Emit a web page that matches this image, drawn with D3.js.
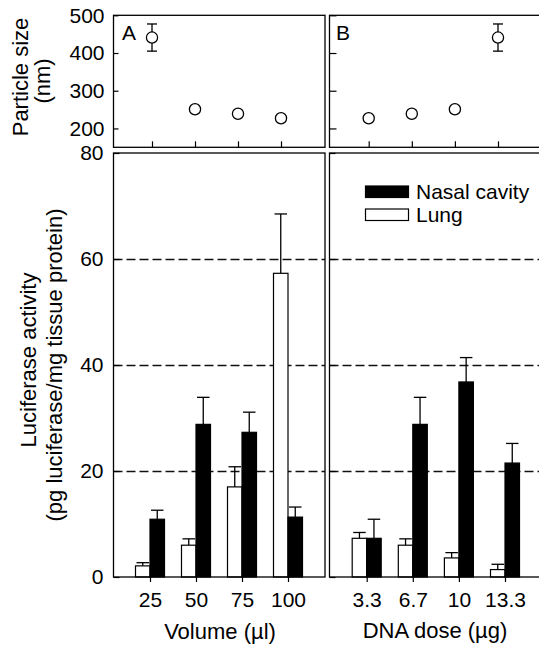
<!DOCTYPE html>
<html>
<head>
<meta charset="utf-8">
<script src="https://cdn.jsdelivr.net/npm/d3@7"></script>
<style>
  body { margin: 0; background: #fff; }
  svg { font-family: "Liberation Sans", Arial, Helvetica, sans-serif; }
</style>
</head>
<body>
<script>
// data
var volumes = ["25", "50", "75", "100"];
var doses = ["3.3", "6.7", "10", "13.3"];

var sizeVolume = [441, 251, 239, 227];
var sizeVolumeErr = [36, 0, 0, 0];
var sizeDose = [227, 239, 251, 441];
var sizeDoseErr = [0, 0, 0, 36];

var lungVolume = [2.1, 6.0, 17.0, 57.3];
var lungVolumeErr = [0.6, 1.2, 3.8, 11.2];
var nasalVolume = [10.9, 28.8, 27.3, 11.3];
var nasalVolumeErr = [1.7, 5.1, 3.8, 1.9];

var lungDose = [7.3, 6.0, 3.6, 1.4];
var lungDoseErr = [1.1, 1.2, 1.0, 1.0];
var nasalDose = [7.3, 28.8, 36.8, 21.5];
var nasalDoseErr = [3.6, 5.1, 4.6, 3.7];

var sizeTicks = [200, 300, 400, 500];
var actTicks = [0, 20, 40, 60, 80];

var w = 539, h = 645;
var svg = d3.select("body").append("svg")
    .attr("width", w)
    .attr("height", h);

// panel boxes
var pA = {x0: 113.5, x1: 325};
var pB = {x0: 329.5, x1: 541};
var top_ = {y0: 15.3, y1: 147.3};
var bot = {y0: 153, y1: 577};

var ySize = d3.scaleLinear().domain([150, 500]).range([top_.y1, top_.y0]);
var yAct = d3.scaleLinear().domain([0, 80]).range([bot.y1, bot.y0]);

var xTopA = d3.scalePoint().domain(volumes).range([152, 281]);
var xTopB = d3.scalePoint().domain(doses).range([368.7, 498]);
var xBotA = d3.scalePoint().domain(volumes).range([150, 288]);
var xBotB = d3.scalePoint().domain(doses).range([366.7, 505]);

var fs = 21;
var titleFs = 22;
var barW = 14.5;

// dashed grid lines
[pA, pB].forEach(function(p) {
  svg.selectAll(null)
    .data([20, 40, 60])
    .enter()
    .append("line")
    .attr("x1", p.x0).attr("x2", p.x1)
    .attr("y1", function(d) { return Math.round(yAct(d)) + 0.5; })
    .attr("y2", function(d) { return Math.round(yAct(d)) + 0.5; })
    .attr("stroke", "#111")
    .attr("stroke-width", 1.3)
    .attr("stroke-dasharray", "9,4");
});

// bars with error bars
function drawBars(x, lung, lungErr, nasal, nasalErr, cats) {
  var g = svg.append("g");
  var rows = cats.map(function(c, i) {
    return [
      {x: x(c) - barW, v: lung[i], e: lungErr[i], fill: "#fff"},
      {x: x(c), v: nasal[i], e: nasalErr[i], fill: "#000"}
    ];
  }).flat();

  g.selectAll("line.err")
    .data(rows)
    .enter()
    .append("line")
    .attr("x1", function(d) { return d.x + barW / 2; })
    .attr("x2", function(d) { return d.x + barW / 2; })
    .attr("y1", function(d) { return yAct(d.v); })
    .attr("y2", function(d) { return yAct(d.v + d.e); })
    .attr("stroke", "#000")
    .attr("stroke-width", 1.3);

  g.selectAll("line.cap")
    .data(rows)
    .enter()
    .append("line")
    .attr("x1", function(d) { return d.x + 1; })
    .attr("x2", function(d) { return d.x + barW - 1; })
    .attr("y1", function(d) { return yAct(d.v + d.e); })
    .attr("y2", function(d) { return yAct(d.v + d.e); })
    .attr("stroke", "#000")
    .attr("stroke-width", 1.3);

  g.selectAll("rect")
    .data(rows)
    .enter()
    .append("rect")
    .attr("x", function(d) { return d.x; })
    .attr("y", function(d) { return yAct(d.v); })
    .attr("width", barW)
    .attr("height", function(d) { return yAct(0) - yAct(d.v); })
    .attr("fill", function(d) { return d.fill; })
    .attr("stroke", "#000")
    .attr("stroke-width", 1.2);
}
drawBars(xBotA, lungVolume, lungVolumeErr, nasalVolume, nasalVolumeErr, volumes);
drawBars(xBotB, lungDose, lungDoseErr, nasalDose, nasalDoseErr, doses);

// particle size points
function drawPoints(x, vals, errs, cats) {
  var g = svg.append("g");
  var pts = cats.map(function(c, i) { return {x: x(c), v: vals[i], e: errs[i]}; });
  var withErr = pts.filter(function(d) { return d.e > 0; });

  g.selectAll("line.err")
    .data(withErr)
    .enter()
    .append("line")
    .attr("x1", function(d) { return d.x; })
    .attr("x2", function(d) { return d.x; })
    .attr("y1", function(d) { return ySize(d.v - d.e); })
    .attr("y2", function(d) { return ySize(d.v + d.e); })
    .attr("stroke", "#000")
    .attr("stroke-width", 1.3);

  [1, -1].forEach(function(s) {
    g.selectAll(null)
      .data(withErr)
      .enter()
      .append("line")
      .attr("x1", function(d) { return d.x - 5; })
      .attr("x2", function(d) { return d.x + 5; })
      .attr("y1", function(d) { return ySize(d.v + s * d.e); })
      .attr("y2", function(d) { return ySize(d.v + s * d.e); })
      .attr("stroke", "#000")
      .attr("stroke-width", 1.3);
  });

  g.selectAll("circle")
    .data(pts)
    .enter()
    .append("circle")
    .attr("cx", function(d) { return d.x; })
    .attr("cy", function(d) { return ySize(d.v); })
    .attr("r", 5.6)
    .attr("fill", "#fff")
    .attr("stroke", "#000")
    .attr("stroke-width", 1.3);
}
drawPoints(xTopA, sizeVolume, sizeVolumeErr, volumes);
drawPoints(xTopB, sizeDose, sizeDoseErr, doses);

// axes
function styleAxis(g, showText) {
  g.select(".domain").remove();
  g.selectAll(".tick line").attr("stroke", "#000").attr("stroke-width", 1.2);
  g.selectAll(".tick text")
    .attr("font-size", fs)
    .attr("font-family", "Liberation Sans, Arial, sans-serif")
    .attr("fill", "#000");
  if (!showText) g.selectAll(".tick text").remove();
}

// top panels
svg.append("g").attr("transform", "translate(" + pA.x0 + ",0)")
  .call(d3.axisLeft(ySize).tickValues(sizeTicks).tickSize(-5).tickPadding(9))
  .call(styleAxis, true);
svg.append("g").attr("transform", "translate(" + pB.x0 + ",0)")
  .call(d3.axisLeft(ySize).tickValues(sizeTicks).tickSize(-7))
  .call(styleAxis, false);
svg.append("g").attr("transform", "translate(0," + top_.y1 + ")")
  .call(d3.axisBottom(xTopA).tickSize(-6))
  .call(styleAxis, false);
svg.append("g").attr("transform", "translate(0," + top_.y1 + ")")
  .call(d3.axisBottom(xTopB).tickSize(-6))
  .call(styleAxis, false);

// bottom panels
svg.append("g").attr("transform", "translate(" + pA.x0 + ",0)")
  .call(d3.axisLeft(yAct).tickValues(actTicks).tickSize(-6).tickPadding(10))
  .call(styleAxis, true);
svg.append("g").attr("transform", "translate(" + pB.x0 + ",0)")
  .call(d3.axisLeft(yAct).tickValues(actTicks).tickSize(-6))
  .call(styleAxis, false);
svg.append("g").attr("transform", "translate(0," + bot.y1 + ")")
  .call(d3.axisBottom(xBotA).tickSize(5).tickPadding(10))
  .call(styleAxis, true);
svg.append("g").attr("transform", "translate(0," + bot.y1 + ")")
  .call(d3.axisBottom(xBotB).tickSize(5).tickPadding(10))
  .call(styleAxis, true);

// frames
[pA, pB].forEach(function(p) {
  [top_, bot].forEach(function(r) {
    svg.append("rect")
      .attr("x", p.x0).attr("y", r.y0)
      .attr("width", p.x1 - p.x0).attr("height", r.y1 - r.y0)
      .attr("fill", "none")
      .attr("stroke", "#000")
      .attr("stroke-width", 1.3);
  });
});

// panel letters
svg.append("text").attr("x", 122).attr("y", 40).attr("font-size", fs).text("A");
svg.append("text").attr("x", 336).attr("y", 40).attr("font-size", fs).text("B");

// legend
svg.append("rect").attr("x", 365.5).attr("y", 186).attr("width", 43).attr("height", 11.5)
  .attr("fill", "#000").attr("stroke", "#000").attr("stroke-width", 1.2);
svg.append("rect").attr("x", 365.5).attr("y", 209).attr("width", 43).attr("height", 11.5)
  .attr("fill", "#fff").attr("stroke", "#000").attr("stroke-width", 1.2);
svg.append("text").attr("x", 416).attr("y", 198.5).attr("font-size", fs).text("Nasal cavity");
svg.append("text").attr("x", 416).attr("y", 221.5).attr("font-size", fs).text("Lung");

// axis titles
function vtext(x, y, t) {
  svg.append("text")
    .attr("transform", "translate(" + x + "," + y + ") rotate(-90)")
    .attr("text-anchor", "middle")
    .attr("font-size", titleFs)
    .text(t);
}
vtext(28, 77, "Particle size");
vtext(50, 81, "(nm)");
vtext(36, 360, "Luciferase activity");
vtext(62, 365, "(pg luciferase/mg tissue protein)");

svg.append("text").attr("x", 220).attr("y", 639).attr("text-anchor", "middle")
  .attr("font-size", titleFs).text("Volume (\u00b5l)");
svg.append("text").attr("x", 435).attr("y", 638).attr("text-anchor", "middle")
  .attr("font-size", titleFs).text("DNA dose (\u00b5g)");
</script>
</body>
</html>
